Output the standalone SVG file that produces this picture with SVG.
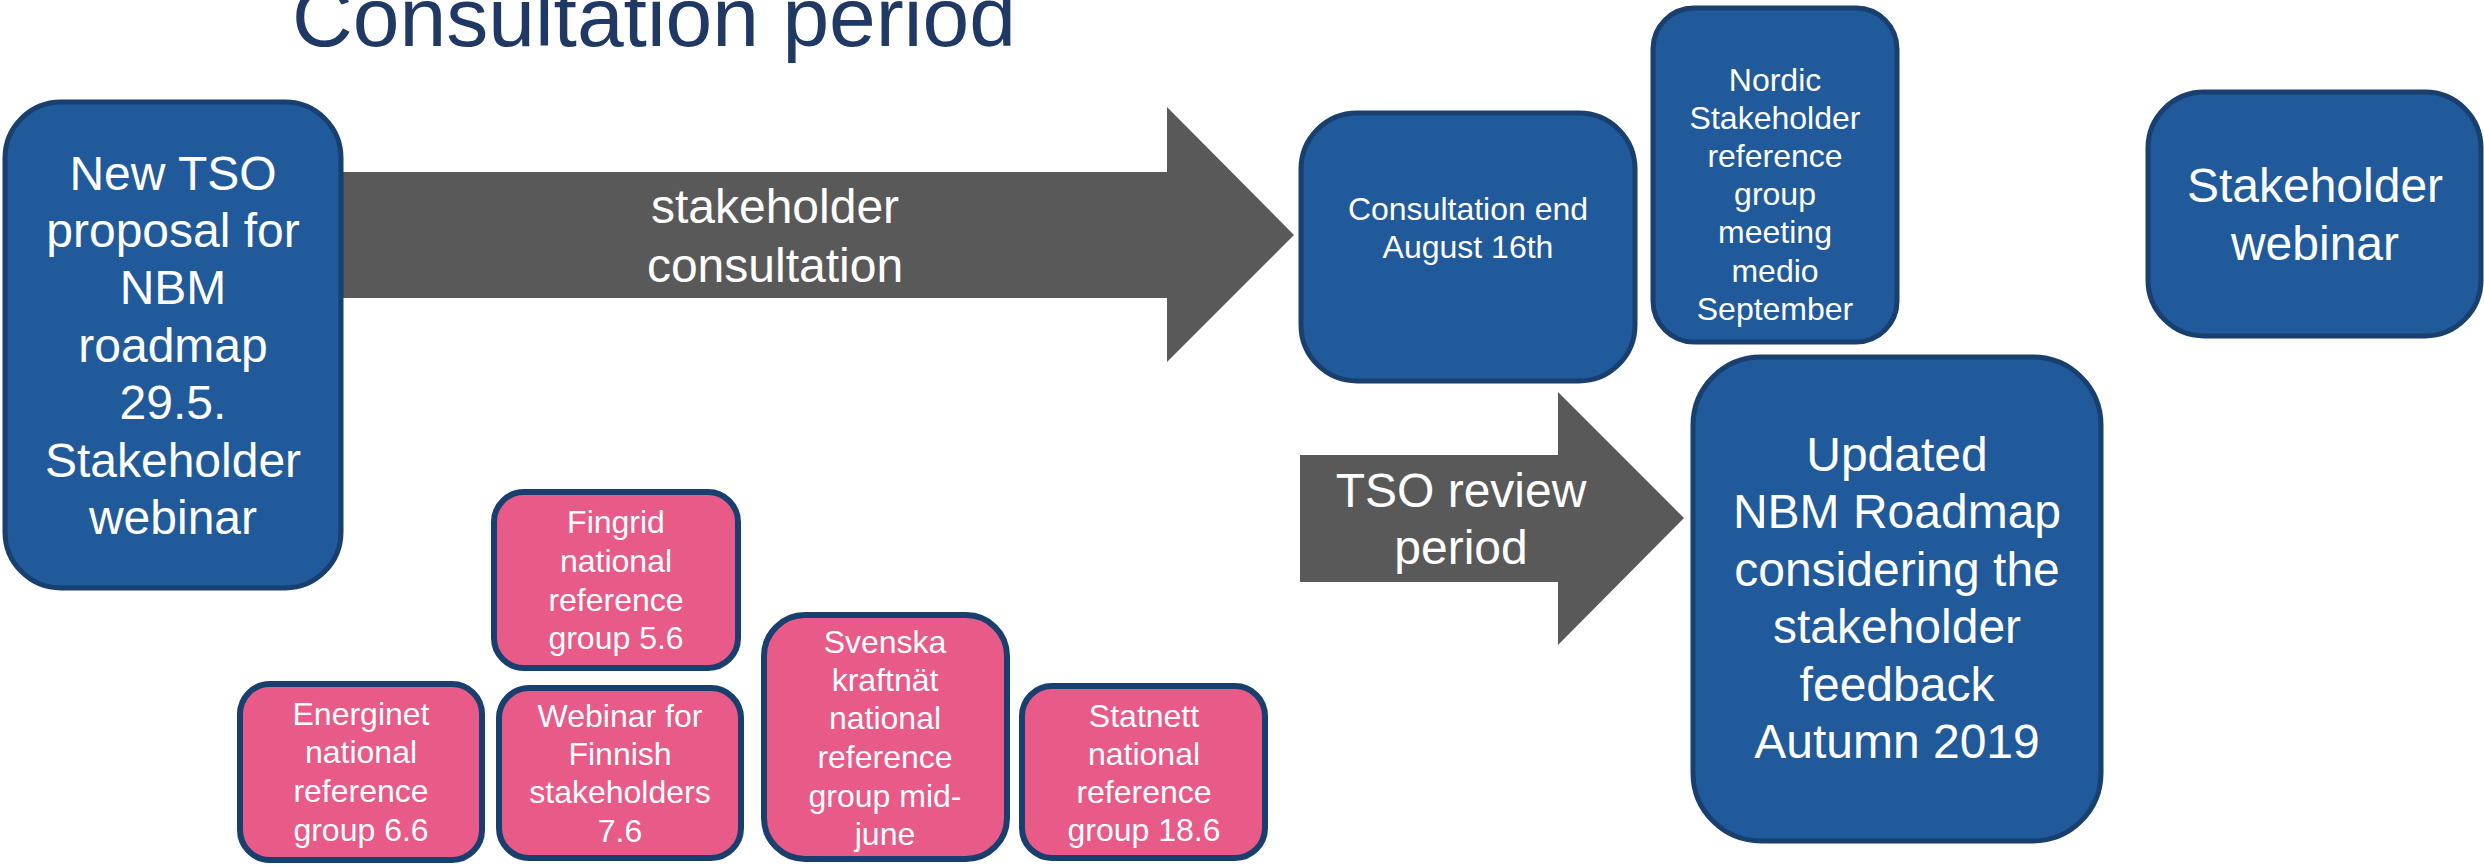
<svg xmlns="http://www.w3.org/2000/svg" width="2484" height="866" viewBox="0 0 2484 866">
<style>
text{font-family:"Liberation Sans",Arial,sans-serif;text-anchor:middle;fill:#fff}
.title{fill:#1F3864;font-size:84px}
.blue{fill:#215A9A;stroke:#183F6E;stroke-width:5}
.pink{fill:#E85A87;stroke:#183F6E;stroke-width:6}
.arrow{fill:#595959}
.big{font-size:48px}
.mid{font-size:32px}
</style>
<text class="title" x="654" y="46">Consultation period</text>
<g id="connectors">
<g id="arrow-consultation">
<polygon class="arrow" points="342,172 1167,172 1167,107 1294,235 1167,362 1167,298 342,298"/>
<text class="big" x="775" y="223">stakeholder</text>
<text class="big" x="775" y="282">consultation</text>
</g>
<g id="arrow-review">
<polygon class="arrow" points="1300,455 1558,455 1558,392 1684,518 1558,645 1558,582 1300,582"/>
<text class="big" x="1461" y="507">TSO review</text>
<text class="big" x="1461" y="564">period</text>
</g>
</g>
<g id="node-proposal">
<rect class="blue" x="5" y="102" width="336" height="486" rx="56"/>
<text class="big" x="173"><tspan x="173" y="190">New TSO</tspan><tspan x="173" y="247">proposal for</tspan><tspan x="173" y="304">NBM</tspan><tspan x="173" y="362">roadmap</tspan><tspan x="173" y="419">29.5.</tspan><tspan x="173" y="477">Stakeholder</tspan><tspan x="173" y="534">webinar</tspan></text>
</g>
<g id="node-consultation-end">
<rect class="blue" x="1301" y="113" width="334" height="268" rx="56"/>
<text class="mid"><tspan x="1468" y="220">Consultation end</tspan><tspan x="1468" y="258">August 16th</tspan></text>
</g>
<g id="node-nordic">
<rect class="blue" x="1653" y="8" width="244" height="334" rx="41"/>
<text class="mid"><tspan x="1775" y="91">Nordic</tspan><tspan x="1775" y="129">Stakeholder</tspan><tspan x="1775" y="167">reference</tspan><tspan x="1775" y="205">group</tspan><tspan x="1775" y="243">meeting</tspan><tspan x="1775" y="282">medio</tspan><tspan x="1775" y="320">September</tspan></text>
</g>
<g id="node-webinar">
<rect class="blue" x="2148" y="92" width="333" height="244" rx="56"/>
<text class="big"><tspan x="2315" y="202">Stakeholder</tspan><tspan x="2315" y="260">webinar</tspan></text>
</g>
<g id="node-updated">
<rect class="blue" x="1693" y="357" width="408" height="484" rx="68"/>
<text class="big"><tspan x="1897" y="471">Updated</tspan><tspan x="1897" y="528">NBM Roadmap</tspan><tspan x="1897" y="586">considering the</tspan><tspan x="1897" y="643">stakeholder</tspan><tspan x="1897" y="701">feedback</tspan><tspan x="1897" y="758">Autumn 2019</tspan></text>
</g>
<g id="node-fingrid">
<rect class="pink" x="494" y="492" width="244" height="176" rx="30"/>
<text class="mid"><tspan x="616" y="533">Fingrid</tspan><tspan x="616" y="572">national</tspan><tspan x="616" y="611">reference</tspan><tspan x="616" y="649">group 5.6</tspan></text>
</g>
<g id="node-energinet">
<rect class="pink" x="240" y="684" width="242" height="176" rx="30"/>
<text class="mid"><tspan x="361" y="725">Energinet</tspan><tspan x="361" y="763">national</tspan><tspan x="361" y="802">reference</tspan><tspan x="361" y="841">group 6.6</tspan></text>
</g>
<g id="node-finnish-webinar">
<rect class="pink" x="499" y="688" width="242" height="170" rx="30"/>
<text class="mid"><tspan x="620" y="727">Webinar for</tspan><tspan x="620" y="765">Finnish</tspan><tspan x="620" y="803">stakeholders</tspan><tspan x="620" y="842">7.6</tspan></text>
</g>
<g id="node-svenska">
<rect class="pink" x="764" y="615" width="243" height="244" rx="41"/>
<text class="mid"><tspan x="885" y="653">Svenska</tspan><tspan x="885" y="691">kraftnät</tspan><tspan x="885" y="729">national</tspan><tspan x="885" y="768">reference</tspan><tspan x="885" y="807">group mid-</tspan><tspan x="885" y="845">june</tspan></text>
</g>
<g id="node-statnett">
<rect class="pink" x="1022" y="686" width="243" height="172" rx="30"/>
<text class="mid"><tspan x="1144" y="727">Statnett</tspan><tspan x="1144" y="765">national</tspan><tspan x="1144" y="803">reference</tspan><tspan x="1144" y="841">group 18.6</tspan></text>
</g>
</svg>
